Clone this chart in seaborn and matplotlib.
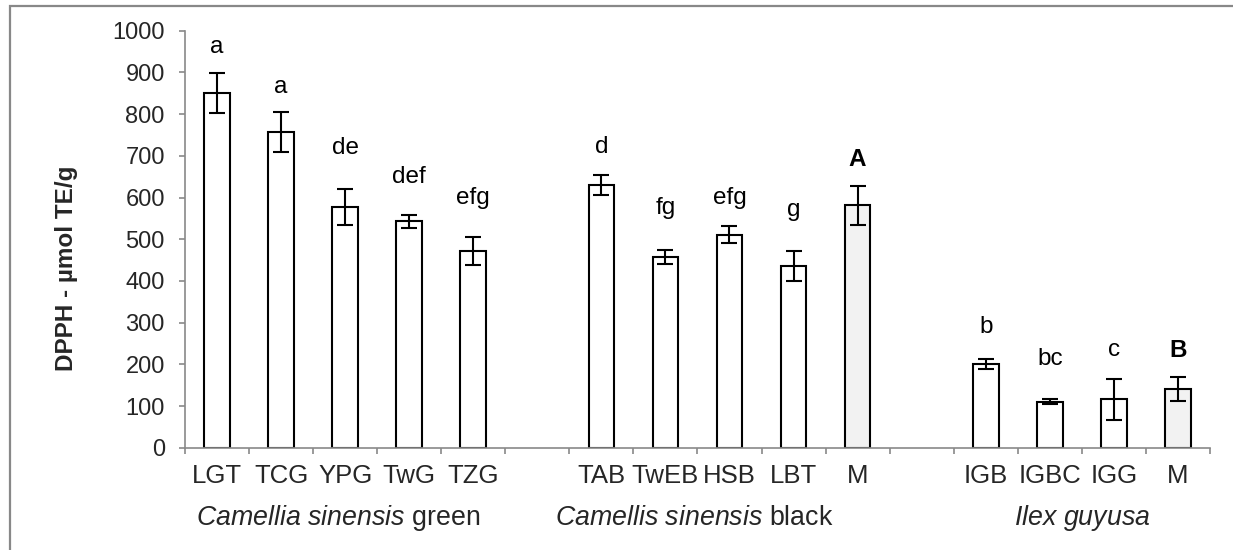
import matplotlib
matplotlib.use("Agg")
import matplotlib.pyplot as plt
import matplotlib.patches as mpatches
import matplotlib.transforms as mtransforms
import numpy as np
import pandas as pd
import seaborn as sns

# Sample codes in plotting order; blank slots separate the three tea groups
slots = ["LGT", "TCG", "YPG", "TwG", "TZG", "gap1",
         "TAB", "TwEB", "HSB", "LBT", "M_black", "gap2",
         "IGB", "IGBC", "IGG", "M_ilex"]
tick_labels = ["LGT", "TCG", "YPG", "TwG", "TZG", "",
               "TAB", "TwEB", "HSB", "LBT", "M", "",
               "IGB", "IGBC", "IGG", "M"]

samples = ["LGT", "TCG", "YPG", "TwG", "TZG",
           "TAB", "TwEB", "HSB", "LBT", "M_black",
           "IGB", "IGBC", "IGG", "M_ilex"]
dpph_mean = [850, 758, 578, 543, 472,
             629, 457, 511, 436, 581,
             200, 110, 116, 141]
dpph_err = [48, 48, 43, 15, 33,
            24, 17, 20, 36, 47,
            12, 6, 49, 29]
kind = ["sample"] * 9 + ["mean"] + ["sample"] * 3 + ["mean"]
letters = ["a", "a", "de", "def", "efg",
           "d", "fg", "efg", "g", "A",
           "b", "bc", "c", "B"]
letter_y = [962, 866, 720, 650, 598,
            722, 574, 598, 570, 692,
            289, 212, 234, 234]

group_species = ["Camellia sinensis", "Camellis sinensis", "Ilex guyusa"]
group_type = [" green", " black", ""]

df = pd.DataFrame({"sample": samples, "dpph": dpph_mean, "kind": kind})

sns.set_style("white")
plt.rcParams["font.family"] = ["Liberation Sans", "DejaVu Sans"]
plt.rcParams["mathtext.fontset"] = "custom"
plt.rcParams["mathtext.rm"] = "Liberation Sans"
plt.rcParams["mathtext.it"] = "Liberation Sans:italic"
plt.rcParams["mathtext.bf"] = "Liberation Sans:bold"

fig = plt.figure(figsize=(12.33, 5.5), dpi=100)
ax = fig.add_axes([0.150, 0.186, 0.8313, 0.758])

sns.barplot(data=df, x="sample", y="dpph", hue="kind", order=slots,
            palette={"sample": "white", "mean": "#f2f2f2"},
            width=0.4, dodge=False, errorbar=None, legend=False,
            edgecolor="black", linewidth=1.5, ax=ax)

pos = [slots.index(s) for s in samples]
ax.errorbar(pos, dpph_mean, yerr=dpph_err, fmt="none", ecolor="black",
            elinewidth=1.5, capsize=5.5, capthick=1.5, zorder=5)

for p, t, yv in zip(pos, letters, letter_y):
    bold = t.isupper()
    ax.text(p, yv, t, ha="center", va="center", fontsize=17.5,
            fontweight="bold" if bold else "normal", color="black")

ax.set_xlim(-0.5, len(slots) - 0.5)
ax.set_ylim(0, 1000)
ax.set_yticks(np.arange(0, 1001, 100))
ax.set_xticks(range(len(slots)))
ax.set_xticklabels(tick_labels)
ax.set_xticks(np.arange(-0.5, len(slots), 1.0), minor=True)
ax.tick_params(axis="x", which="major", length=0, pad=12, labelsize=18.5)
ax.tick_params(axis="x", which="minor", length=4.5, width=1.2,
               color="#898989", direction="out", bottom=True)
ax.tick_params(axis="y", which="major", length=4.5, width=1.2,
               color="#898989", direction="out", left=True, pad=10,
               labelsize=17)
ax.set_xlabel("")
ax.set_ylabel("DPPH - µmol TE/g", fontsize=17.5, fontweight="bold")
ax.yaxis.set_label_coords(-0.104, 0.43)

for side in ["top", "right"]:
    ax.spines[side].set_visible(False)
for side in ["left", "bottom"]:
    ax.spines[side].set_color("#898989")
    ax.spines[side].set_linewidth(1.2)

# Group captions under the sample codes: species in italics
trans = mtransforms.blended_transform_factory(ax.transData, ax.transAxes)
group_x = [1.89, 7.45, 13.5]
for gx, sp, tp in zip(group_x, group_species, group_type):
    txt = r"$\mathit{" + sp.replace(" ", r"\ ") + "}$" + tp
    ax.text(gx, -0.169, txt, transform=trans, ha="center", va="center",
            fontsize=19.3)

# Outer frame of the figure
frame = mpatches.Rectangle((9.5 / 1233, -0.1), 1.2, 1 - 5.5 / 550 + 0.1,
                           transform=fig.transFigure, fill=False,
                           edgecolor="#888888", linewidth=1.6)
fig.patches.append(frame)

fig.savefig("out.png", dpi=100)
